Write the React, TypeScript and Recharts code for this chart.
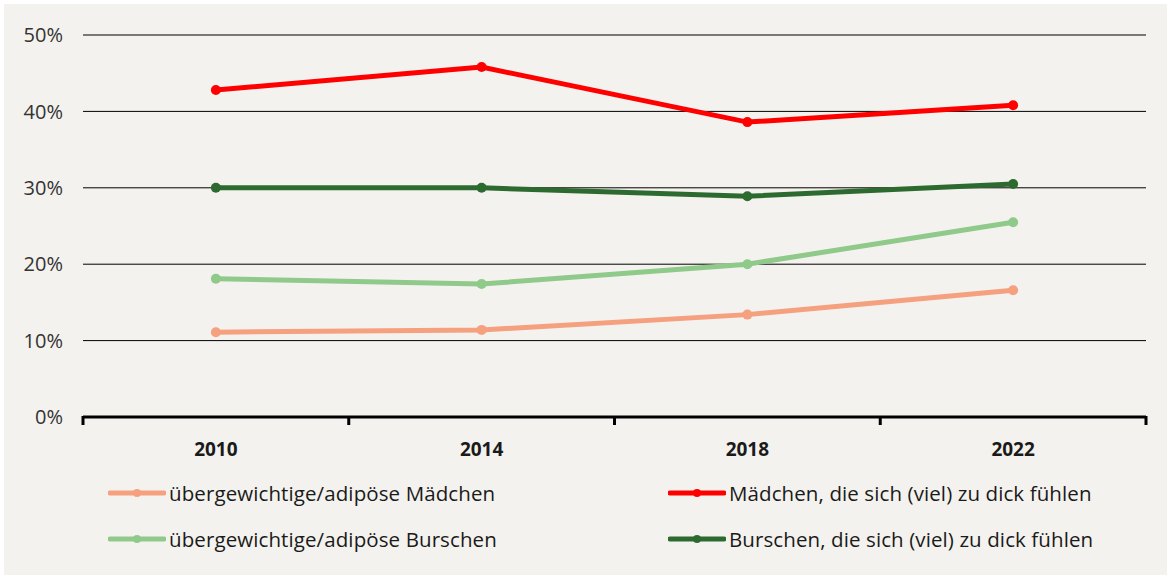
import React from "react";
import { LineChart, Line, XAxis, YAxis, CartesianGrid, Legend } from "recharts";

const years = ["2010", "2014", "2018", "2022"];
const maedchenUebergewicht = [11.1, 11.4, 13.4, 16.6];
const maedchenZuDick = [42.8, 45.8, 38.6, 40.8];
const burschenUebergewicht = [18.1, 17.4, 20.0, 25.5];
const burschenZuDick = [30.0, 30.0, 28.9, 30.5];
const yTicks = [0, 10, 20, 30, 40, 50];

const series = [
  { key: "mU", name: "übergewichtige/adipöse Mädchen", color: "#f5a07f" },
  { key: "mD", name: "Mädchen, die sich (viel) zu dick fühlen", color: "#ff0000" },
  { key: "bU", name: "übergewichtige/adipöse Burschen", color: "#8fca8a" },
  { key: "bD", name: "Burschen, die sich (viel) zu dick fühlen", color: "#2d6a30" },
];

const data = years.map((year, i) => ({
  year,
  mU: maedchenUebergewicht[i],
  mD: maedchenZuDick[i],
  bU: burschenUebergewicht[i],
  bD: burschenZuDick[i],
}));

const FONT = "'Open Sans', 'Noto Sans', sans-serif";
const PLOT_W = 1146 - 83;
const BAND = PLOT_W / years.length;

function YearTick(props: any) {
  const { x, y, payload, index } = props;
  return (
    <g>
      <line x1={x - BAND / 2} x2={x - BAND / 2} y1={y - 9} y2={y} stroke="#000" strokeWidth={3} />
      {index === years.length - 1 && (
        <line x1={x + BAND / 2} x2={x + BAND / 2} y1={y - 9} y2={y} stroke="#000" strokeWidth={3} />
      )}
      <text x={x} y={y + 31} textAnchor="middle" fontFamily={FONT} fontSize={19} fontWeight={700} fill="#1a1a1a">
        {payload.value}
      </text>
    </g>
  );
}

function LegendBox() {
  return (
    <div
      style={{
        display: "grid",
        gridTemplateColumns: "560px 480px",
        rowGap: 17,
        fontFamily: FONT,
        fontSize: 20.5,
        color: "#1a1a1a",
        letterSpacing: 0.1,
      }}
    >
      {series.map((s) => (
        <div key={s.key} style={{ display: "flex", alignItems: "center", height: 29 }}>
          <svg width={58} height={12} style={{ marginRight: 3 }}>
            <line x1={2} x2={56} y1={6} y2={6} stroke={s.color} strokeWidth={5} strokeLinecap="round" />
            <circle cx={29} cy={6} r={4} fill={s.color} />
          </svg>
          <span>{s.name}</span>
        </div>
      ))}
    </div>
  );
}

export default function App() {
  return (
    <div style={{ position: "absolute", left: 0, top: 0, width: 1171, height: 579, background: "#fff" }}>
      <div style={{ position: "absolute", left: 4, top: 4, width: 1163, height: 571, background: "#f4f2ee" }} />
      <div style={{ position: "absolute", left: 0, top: 0 }}>
        <LineChart width={1171} height={579} data={data} margin={{ top: 35, right: 25, bottom: 132, left: 0 }}>
          <CartesianGrid vertical={false} stroke="#000" strokeWidth={1} horizontalValues={[10, 20, 30, 40, 50]} />
          <XAxis
            dataKey="year"
            scale="band"
            axisLine={{ stroke: "#000", strokeWidth: 3 }}
            tickLine={false}
            tick={<YearTick />}
            height={30}
            interval={0}
          />
          <YAxis
            domain={[0, 50]}
            ticks={yTicks}
            width={83}
            axisLine={false}
            tickLine={false}
            tickMargin={14}
            tickFormatter={(v: number) => `${v}%`}
            tick={{ fontFamily: FONT, fontSize: 20, fill: "#333" }}
          />
          <Legend
            layout="vertical"
            align="center"
            verticalAlign="middle"
            wrapperStyle={{ top: 478, left: 108, width: 1050 }}
            content={() => <LegendBox />}
          />
          {series.map((s) => (
            <Line
              key={s.key}
              dataKey={s.key}
              name={s.name}
              stroke={s.color}
              strokeWidth={5}
              dot={{ r: 5, fill: s.color, stroke: s.color, strokeWidth: 0 }}
              activeDot={false}
              isAnimationActive={false}
            />
          ))}
        </LineChart>
      </div>
    </div>
  );
}
